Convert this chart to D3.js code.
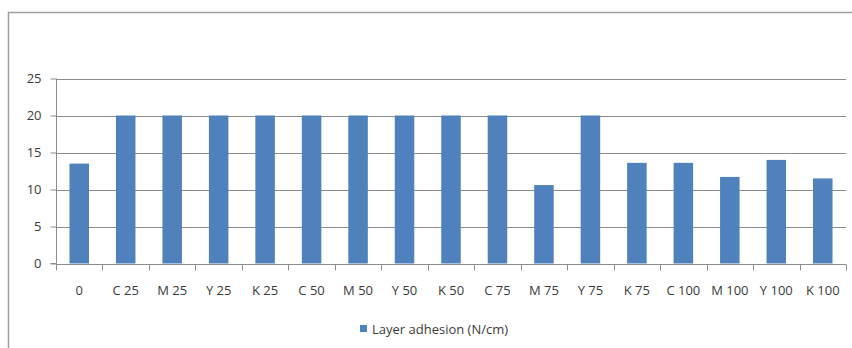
<!DOCTYPE html>
<html lang="en">
<head>
    <meta charset="UTF-8">
    <title>Layer adhesion</title>
    <style>
        body { margin: 0; background: #fff; }
        svg { display: block; font-family: "Open Sans", Lato, sans-serif; }
    </style>
    <script src="https://d3js.org/d3.v7.min.js"></script>
</head>
<body>
    <div id="chart"></div>
    <script>
        // categories and values
        const categories = ["0", "C 25", "M 25", "Y 25", "K 25", "C 50", "M 50", "Y 50", "K 50",
            "C 75", "M 75", "Y 75", "K 75", "C 100", "M 100", "Y 100", "K 100"];
        const adhesion = [13.5, 20, 20, 20, 20, 20, 20, 20, 20, 20, 10.6, 20, 13.6, 13.6, 11.7, 14, 11.5];
        const yTicks = [0, 5, 10, 15, 20, 25];
        const seriesName = "Layer adhesion (N/cm)";

        const width = 852, height = 348;
        const plotLeft = 56, plotRight = 846, plotTop = 78.5, plotBottom = 263.5;
        const fontSize = "13px", textColor = "#3a3a3a";

        const svg = d3.select("#chart").append("svg")
            .attr("width", width)
            .attr("height", height);

        // chart frame (no bottom edge visible)
        svg.append("path")
            .attr("d", `M8.5,${height} V12.5 H${width}`)
            .style("fill", "none")
            .style("stroke", "#a0a0a0")
            .style("stroke-width", "1.5px");

        const x = d3.scaleBand()
            .domain(categories)
            .range([plotLeft, plotRight])
            .paddingInner(0.58)
            .paddingOuter(0.29);

        const xTicks = d3.scaleBand().domain(categories).range([plotLeft, plotRight]);

        const y = d3.scaleLinear()
            .domain([0, 25])
            .range([plotBottom, plotTop]);

        // gridlines
        svg.append("g")
            .selectAll("line")
            .data(yTicks.slice(1))
            .enter().append("line")
            .attr("x1", plotLeft)
            .attr("x2", plotRight)
            .attr("y1", d => Math.round(y(d)) + 0.5)
            .attr("y2", d => Math.round(y(d)) + 0.5)
            .style("stroke", "#8c8c8c")
            .style("stroke-width", "1px");

        // bars
        svg.append("g")
            .selectAll("rect")
            .data(adhesion)
            .enter().append("rect")
            .attr("x", (d, i) => x(categories[i]))
            .attr("width", x.bandwidth())
            .attr("y", d => y(d))
            .attr("height", d => y(0) - y(d))
            .style("fill", "#4f81bd");

        // y axis
        const yAxis = svg.append("g")
            .attr("transform", `translate(${plotLeft + 0.5},0)`)
            .call(d3.axisLeft(y).tickValues(yTicks).tickSize(6).tickPadding(9));
        yAxis.selectAll("path, line").style("stroke", "#8c8c8c");
        yAxis.select(".domain").attr("d", `M-6,${plotBottom}H0V${plotTop}`);
        yAxis.selectAll(".tick text")
            .style("font-size", fontSize)
            .style("font-family", "'Open Sans', sans-serif")
            .style("fill", textColor);

        // x axis with ticks between categories
        const xAxis = svg.append("g")
            .attr("transform", `translate(0,${Math.round(plotBottom) + 0.5})`);
        xAxis.append("line")
            .attr("x1", plotLeft)
            .attr("x2", plotRight)
            .style("stroke", "#8c8c8c");
        xAxis.selectAll(".sep")
            .data(categories.concat([null]))
            .enter().append("line")
            .attr("class", "sep")
            .attr("x1", (d, i) => Math.round(plotLeft + i * xTicks.bandwidth()) + 0.5)
            .attr("x2", (d, i) => Math.round(plotLeft + i * xTicks.bandwidth()) + 0.5)
            .attr("y1", 0)
            .attr("y2", 6)
            .style("stroke", "#8c8c8c");
        xAxis.selectAll(".lbl")
            .data(categories)
            .enter().append("text")
            .attr("class", "lbl")
            .attr("x", d => xTicks(d) + xTicks.bandwidth() / 2)
            .attr("y", 30)
            .style("text-anchor", "middle")
            .style("font-size", fontSize)
            .style("fill", textColor)
            .text(d => d);

        // legend
        const legend = svg.append("g").attr("transform", "translate(360,329)");
        legend.append("rect")
            .attr("x", 0)
            .attr("y", -4)
            .attr("width", 7)
            .attr("height", 7)
            .style("fill", "#4f81bd");
        legend.append("text")
            .attr("x", 12)
            .attr("y", 4.5)
            .style("font-size", fontSize)
            .style("fill", textColor)
            .text(seriesName);
    </script>
</body>
</html>
